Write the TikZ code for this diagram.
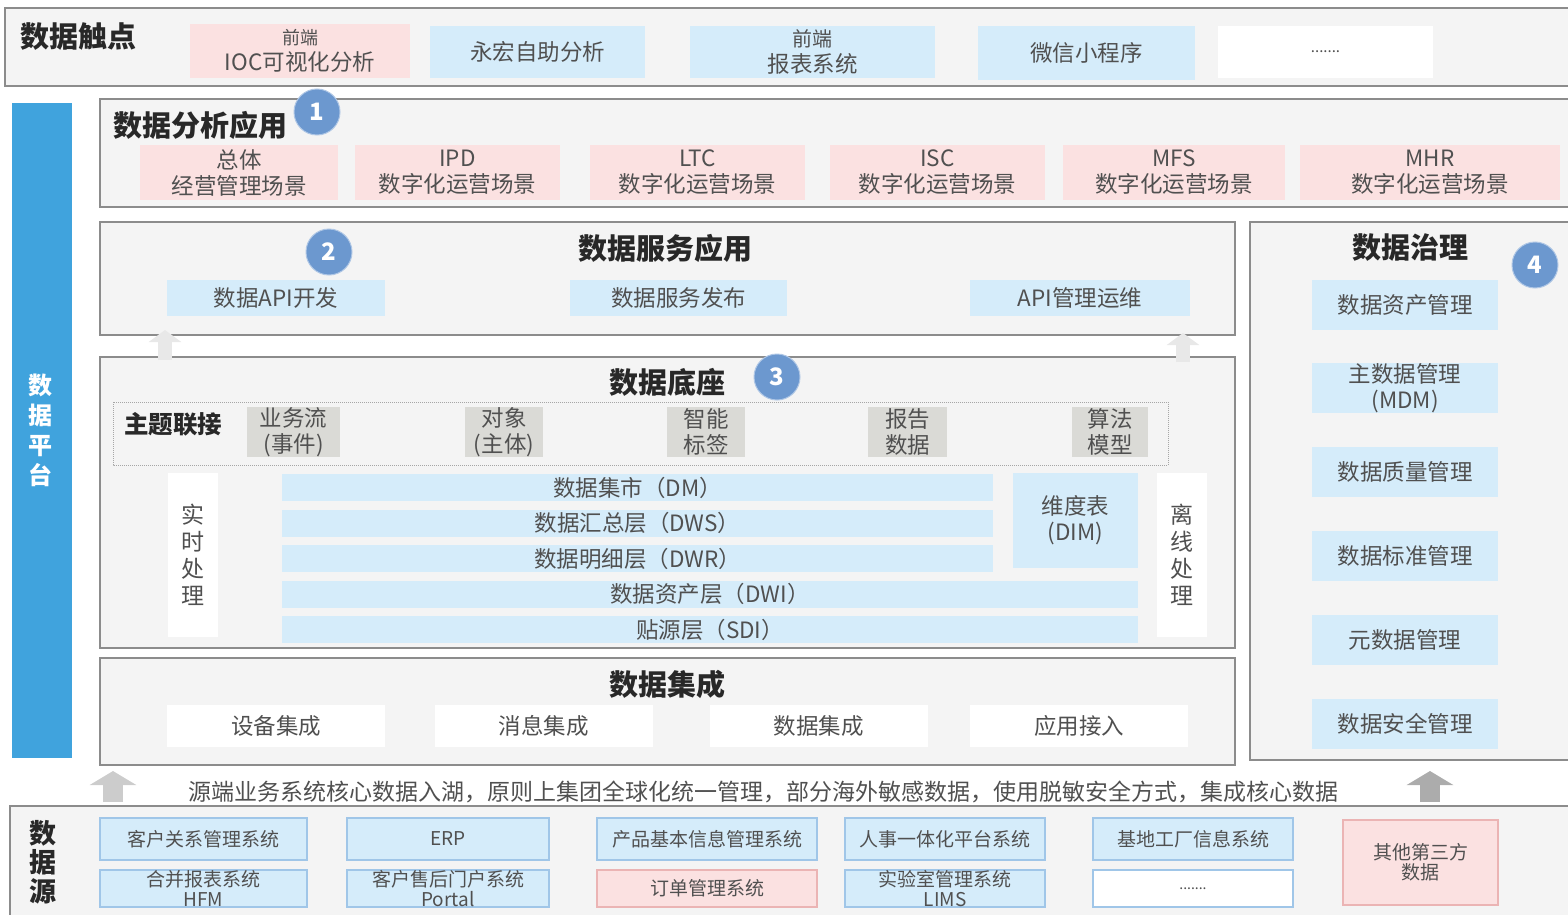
\documentclass[tikz,border=0pt]{standalone}
\usepackage{fontspec}
\setmainfont{Noto Sans CJK SC}
\usetikzlibrary{arrows.meta}

\definecolor{boxblue}{RGB}{213,236,250}
\definecolor{boxpink}{RGB}{251,225,225}
\definecolor{boxgray}{RGB}{218,218,214}
\definecolor{panelfill}{RGB}{244,244,244}
\definecolor{panelline}{RGB}{140,140,140}
\definecolor{barblue}{RGB}{64,163,221}
\definecolor{badgeblue}{RGB}{108,152,207}
\definecolor{txtgray}{RGB}{80,80,80}
\definecolor{titlegray}{RGB}{40,40,40}
\definecolor{srcline}{RGB}{160,198,232}
\definecolor{pinkline}{RGB}{235,180,180}

\begin{document}
\begin{tikzpicture}[x=1pt, y=-1pt,
    panel/.style={draw=panelline, fill=panelfill, line width=1.6pt},
    box/.style={inner sep=0pt, align=center, text=txtgray, font=\fontsize{22.5}{26}\selectfont},
    bluebox/.style={box, fill=boxblue},
    pinkbox/.style={box, fill=boxpink},
    graybox/.style={box, fill=boxgray},
    whitebox/.style={box, fill=white},
    srcbox/.style={box, fill=boxblue, draw=srcline, line width=1.2pt, font=\fontsize{19}{20}\selectfont},
    title/.style={inner sep=0pt, text=titlegray, font=\fontsize{29}{32}\selectfont\bfseries},
    badge/.style={circle, fill=badgeblue, draw=badgeblue!55, line width=1pt, text=white, minimum size=46pt, inner sep=0pt, font=\fontsize{24}{24}\selectfont\bfseries},
    bigup/.style={-{Triangle[width=46pt,length=14pt]}, line width=20pt},
    smallup/.style={-{Triangle[width=32pt,length=12pt]}, line width=14pt}
]
    \useasboundingbox (0,0) rectangle (1568,915);

    % Data touch points
    \draw[panel] (5,8) rectangle (1580,86);
    \node[title, anchor=west] (touch) at (20,37) {数据触点};
    \node[pinkbox, minimum width=220pt, minimum height=54pt] (ioc) at (300,51) {{\fontsize{18}{20}\selectfont 前端}\\IOC可视化分析};
    \node[bluebox, minimum width=215pt, minimum height=52pt] (yonghong) at (537.5,52) {永宏自助分析};
    \node[bluebox, minimum width=245pt, minimum height=52pt] (report) at (812.5,52) {{\fontsize{20}{22}\selectfont 前端}\\报表系统};
    \node[bluebox, minimum width=217pt, minimum height=54pt] (wechat) at (1086.5,53) {微信小程序};
    \node[whitebox, minimum width=215pt, minimum height=52pt, font=\fontsize{15}{15}\selectfont] (touchmore) at (1325.5,52) {.......};

    % Data platform bar
    \fill[barblue] (12,103) rectangle (72,758);
    \node[align=center, text=white, font=\fontsize{24}{30}\selectfont\bfseries] (platform) at (40,430) {数\\据\\平\\台};

    % Data analysis applications
    \draw[panel] (100,99) rectangle (1580,207);
    \node[title, anchor=west] (analysis) at (113,125) {数据分析应用};
    \node[pinkbox, minimum width=198pt, minimum height=55pt] (overall) at (239,172.5) {总体\\经营管理场景};
    \foreach \nm/\cx/\w in {IPD/457.5/205, LTC/697.5/215, ISC/937.5/215, MFS/1174/222, MHR/1430/260} {
        \node[pinkbox, minimum width=\w pt, minimum height=55pt] (\nm) at (\cx,172.5) {\nm\\数字化运营场景};
    }
    \node[badge] (badge1) at (317,112) {1};

    % Data service applications
    \draw[panel] (100,222) rectangle (1235,335);
    \node[title] (service) at (665,248) {数据服务应用};
    \node[bluebox, minimum width=218pt, minimum height=36pt] (apidev) at (276,298) {数据API开发};
    \node[bluebox, minimum width=217pt, minimum height=36pt] (publish) at (678.5,298) {数据服务发布};
    \node[bluebox, minimum width=220pt, minimum height=36pt] (apiops) at (1080,298) {API管理运维};
    \node[badge] (badge2) at (329,252) {2};

    % Data foundation
    \draw[panel] (100,357) rectangle (1235,648);
    \node[title] (base) at (667,382) {数据底座};
    \node[badge] (badge3) at (777,377) {3};
    \draw[densely dotted, gray!70, line width=1pt] (113,402) rectangle (1168,465);
    \node[inner sep=0pt, text=titlegray, font=\fontsize{24.5}{27}\selectfont\bfseries] (topic) at (173,424) {主题联接};
    \foreach \nm/\cx/\w/\lbl in {flow/293.5/93/业务流\\(事件), object/504/78/对象\\(主体), tag/706/78/智能\\标签, reportdata/907.5/79/报告\\数据, algo/1110/76/算法\\模型} {
        \node[graybox, minimum width=\w pt, minimum height=50pt] (\nm) at (\cx,432) {\lbl};
    }
    \node[whitebox, minimum width=50pt, minimum height=164pt, font=\fontsize{23}{27}\selectfont] (realtime) at (193,555) {实\\时\\处\\理};
    \foreach \nm/\cx/\cy/\w/\lbl in {dm/637.5/487.5/711/数据集市（DM）, dws/637.5/523/711/数据汇总层（DWS）, dwr/637.5/558.5/711/数据明细层（DWR）, dwi/710/594/856/数据资产层（DWI）, sdi/710/629.5/856/贴源层（SDI）} {
        \node[bluebox, minimum width=\w pt, minimum height=27pt] (\nm) at (\cx,\cy) {\lbl};
    }
    \node[bluebox, minimum width=125pt, minimum height=95pt] (dim) at (1075.5,520.5) {维度表\\(DIM)};
    \node[whitebox, minimum width=50pt, minimum height=164pt, font=\fontsize{23}{27}\selectfont] (offline) at (1182,555) {离\\线\\处\\理};

    % Data integration
    \draw[panel] (100,658) rectangle (1235,765);
    \node[title] (integration) at (667,684) {数据集成};
    \foreach \nm/\cx/\lbl in {device/276/设备集成, message/543.5/消息集成, dataint/818.5/数据集成, appin/1079/应用接入} {
        \node[whitebox, minimum width=218pt, minimum height=42pt] (\nm) at (\cx,726) {\lbl};
    }

    % Data governance
    \draw[panel] (1250,222) rectangle (1580,760);
    \node[title] (governance) at (1410,248) {数据治理};
    \foreach \nm/\cy/\lbl in {asset/305/数据资产管理, mdm/388/主数据管理\\(MDM), quality/472/数据质量管理, standard/556/数据标准管理, meta/640/元数据管理, security/724/数据安全管理} {
        \node[bluebox, minimum width=186pt, minimum height=50pt] (\nm) at (1405,\cy) {\lbl};
    }
    \node[badge] (badge4) at (1535,265) {4};

    % Arrows between layers
    \coordinate (upAs) at (165,360);
    \coordinate (upAe) at (165,330);
    \coordinate (upBs) at (1183,362);
    \coordinate (upBe) at (1183,333);
    \draw[smallup, gray!18] (upAs) -- (upAe);
    \draw[smallup, gray!18] (upBs) -- (upBe);

    % Source note
    \node[text=txtgray, inner sep=0pt, font=\fontsize{23}{26}\selectfont] (note) at (763,792) {源端业务系统核心数据入湖，原则上集团全球化统一管理，部分海外敏感数据，使用脱敏安全方式，集成核心数据};
    \coordinate (upCs) at (113,802);
    \coordinate (upCe) at (113,771);
    \coordinate (upDs) at (1430,802);
    \coordinate (upDe) at (1430,771);
    \draw[bigup, gray!40] (upCs) -- (upCe);
    \draw[bigup, gray!65] (upDs) -- (upDe);

    % Data sources
    \draw[panel] (10,806) rectangle (1580,925);
    \node[align=center, text=titlegray, font=\fontsize{27}{29}\selectfont\bfseries] (sources) at (43,862) {数\\据\\源};
    \foreach \nm/\cx/\w/\lbl in {crm/203.5/207/客户关系管理系统, erp/448/202/ERP, plm/707/220/产品基本信息管理系统, hr/945/200/人事一体化平台系统, factory/1193/200/基地工厂信息系统} {
        \node[srcbox, minimum width=\w pt, minimum height=42pt] (\nm) at (\cx,839) {\lbl};
    }
    \foreach \nm/\cx/\w/\lbl in {hfm/203.5/207/合并报表系统\\HFM, portal/448/202/客户售后门户系统\\Portal, lims/945/200/实验室管理系统\\LIMS} {
        \node[srcbox, minimum width=\w pt, minimum height=37pt] (\nm) at (\cx,888.5) {\lbl};
    }
    \node[srcbox, fill=boxpink, draw=pinkline, minimum width=220pt, minimum height=37pt] (order) at (707,888.5) {订单管理系统};
    \node[srcbox, fill=white, minimum width=200pt, minimum height=37pt, font=\fontsize{14}{14}\selectfont] (srcmore) at (1193,888.5) {.......};
    \node[srcbox, fill=boxpink, draw=pinkline, minimum width=155pt, minimum height=85pt] (thirdparty) at (1420.5,862.5) {其他第三方\\数据};
\end{tikzpicture}
\end{document}
